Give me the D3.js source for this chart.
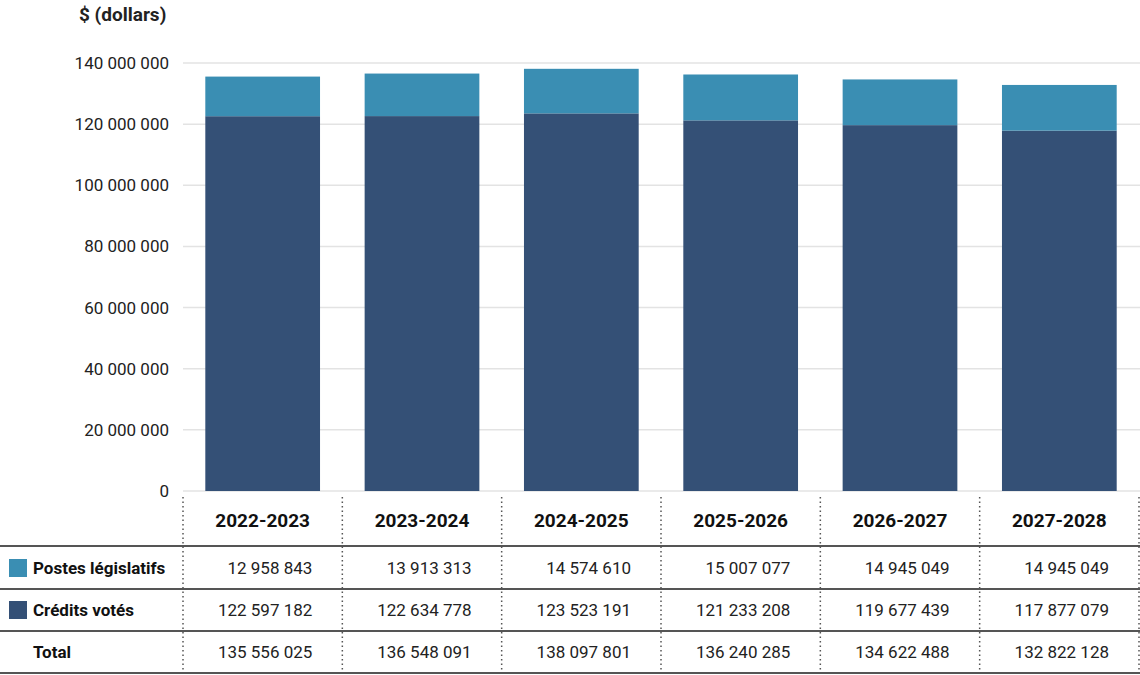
<!DOCTYPE html>
<html>
<head>
<meta charset="utf-8">
<script src="https://cdnjs.cloudflare.com/ajax/libs/d3/7.8.5/d3.min.js"></script>
<style>
body { margin: 0; background: #fff; }
svg { font-family: Roboto, "Liberation Sans", sans-serif; }
</style>
</head>
<body>
<div id="vis"></div>
<script>
var years = ["2022-2023", "2023-2024", "2024-2025", "2025-2026", "2026-2027", "2027-2028"];
var postes = [12958843, 13913313, 14574610, 15007077, 14945049, 14945049];
var credits = [122597182, 122634778, 123523191, 121233208, 119677439, 117877079];
var totals = [135556025, 136548091, 138097801, 136240285, 134622488, 132822128];
var yTicks = [0, 20000000, 40000000, 60000000, 80000000, 100000000, 120000000, 140000000];

var W = 1140, H = 675;
var left = 183, right = 1139, top0 = 63, base = 491;

var fmt = function(v){ return d3.format(",")(v).replace(/,/g, "\u00a0"); };

var svg = d3.select("#vis").append("svg").attr("width", W).attr("height", H);

var x = d3.scaleBand().domain(years).range([left, right]).paddingInner(0.28).paddingOuter(0.14);
var xc = d3.scaleBand().domain(years).range([left, right]);
var y = d3.scaleLinear().domain([0, 140000000]).range([base, top0]);

// gridlines + y labels
svg.append("g").selectAll("line").data(yTicks).enter().append("line")
    .attr("x1", left).attr("x2", W)
    .attr("y1", function(d){ return y(d); }).attr("y2", function(d){ return y(d); })
    .attr("stroke", "#e3e3e3").attr("stroke-width", 1.5);

svg.append("g").selectAll("text").data(yTicks).enter().append("text")
    .attr("x", 169).attr("y", function(d){ return y(d); }).attr("dy", "0.35em")
    .attr("text-anchor", "end").attr("font-size", 17).attr("fill", "#222")
    .text(function(d){ return fmt(d); });

svg.append("text").attr("x", 79).attr("y", 21).attr("font-size", 19)
    .attr("font-weight", "bold").attr("fill", "#222").text("$ (dollars)");

// bars
var series = [
  {name: "Crédits votés", vals: credits, color: "#345076"},
  {name: "Postes législatifs", vals: postes, color: "#3a8eb3"}
];
var g = svg.append("g");
years.forEach(function(yr, i){
    var b0 = 0;
    series.forEach(function(s){
        var b1 = b0 + s.vals[i];
        g.append("rect")
            .attr("x", x(yr)).attr("width", x.bandwidth())
            .attr("y", y(b1)).attr("height", y(b0) - y(b1))
            .attr("fill", s.color);
        b0 = b1;
    });
});

// table
var rowLines = [546, 589, 631, 673];
var rows = [
  {label: "Postes législatifs", vals: postes, color: "#3a8eb3", mid: 568},
  {label: "Crédits votés", vals: credits, color: "#345076", mid: 610},
  {label: "Total", vals: totals, color: null, mid: 652}
];

var tbl = svg.append("g");
var bounds = years.map(function(d){ return xc(d); }).concat([right]);
tbl.selectAll("line.v").data(bounds).enter().append("line")
    .attr("x1", function(d){ return d; }).attr("x2", function(d){ return d; })
    .attr("y1", 497).attr("y2", 675)
    .attr("stroke", "#555").attr("stroke-width", 1.5).attr("stroke-dasharray", "1.5,3");

tbl.selectAll("line.h").data(rowLines).enter().append("line")
    .attr("x1", 0).attr("x2", W)
    .attr("y1", function(d){ return d; }).attr("y2", function(d){ return d; })
    .attr("stroke", "#555").attr("stroke-width", 2);

tbl.selectAll("text.head").data(years).enter().append("text")
    .attr("x", function(d){ return xc(d) + xc.bandwidth() / 2; })
    .attr("y", 527).attr("text-anchor", "middle")
    .attr("font-size", 19).attr("font-weight", "bold").attr("fill", "#111")
    .text(function(d){ return d; });

rows.forEach(function(r){
    if (r.color) {
        tbl.append("rect").attr("x", 9).attr("y", r.mid - 9).attr("width", 18).attr("height", 18)
            .attr("fill", r.color);
    }
    tbl.append("text").attr("x", 33).attr("y", r.mid).attr("dy", "0.35em")
        .attr("font-size", 17).attr("font-weight", "bold").attr("fill", "#111").text(r.label);
    tbl.selectAll(null).data(r.vals).enter().append("text")
        .attr("x", function(d, i){ return xc(years[i]) + xc.bandwidth() - 30; })
        .attr("y", r.mid).attr("dy", "0.35em").attr("text-anchor", "end")
        .attr("font-size", 17).attr("fill", "#222")
        .text(function(d){ return fmt(d); });
});
</script>
</body>
</html>
